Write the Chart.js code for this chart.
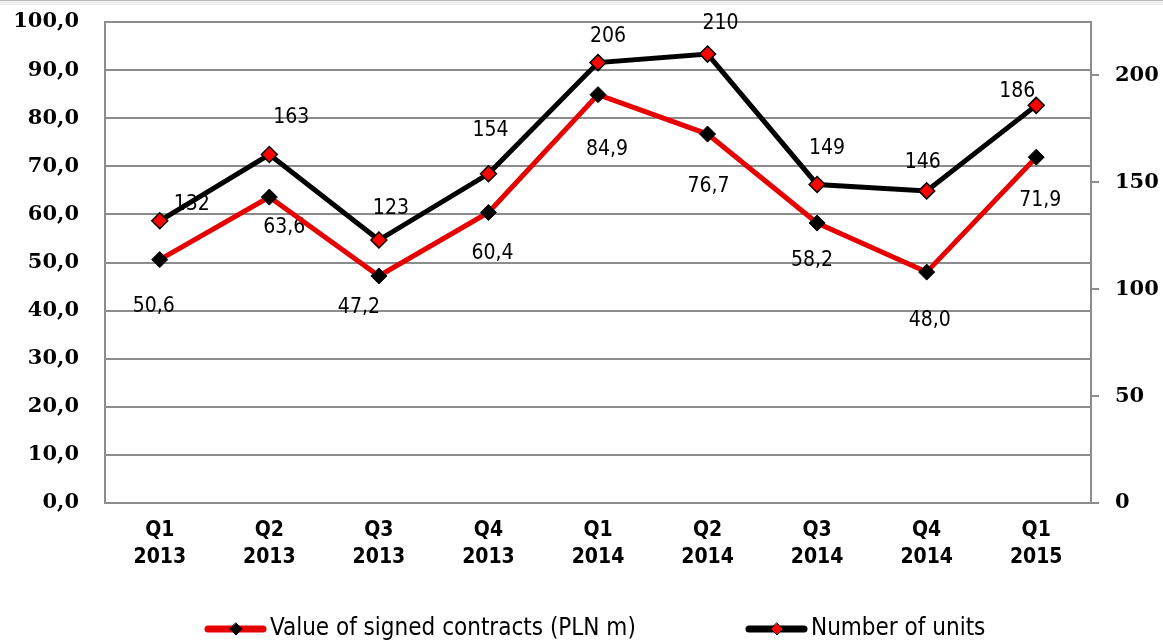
<!DOCTYPE html>
<html>
<head>
<meta charset="utf-8">
<script src="https://cdn.jsdelivr.net/npm/chart.js@4.4.1/dist/chart.umd.min.js"></script>
<style>
  html, body { margin: 0; padding: 0; background: #fff; }
  #contenedor { position: relative; width: 1163px; height: 641px; }
  #franja { position: absolute; left: 0; top: 0; width: 1163px; height: 4px; border-top: 1px solid #b8b8b8; background: #efefef; }
</style>
</head>
<body>
<div id="contenedor">
  <canvas id="grafico" width="1163" height="641"></canvas>
  <div id="franja"></div>
</div>
<script>
// Datos
const trimestres = [['Q1', '2013'], ['Q2', '2013'], ['Q3', '2013'], ['Q4', '2013'], ['Q1', '2014'], ['Q2', '2014'], ['Q3', '2014'], ['Q4', '2014'], ['Q1', '2015']];
const valorContratos = [50.6, 63.6, 47.2, 60.4, 84.9, 76.7, 58.2, 48.0, 71.9];
const numeroUnidades = [132, 163, 123, 154, 206, 210, 149, 146, 186];
const ticksIzquierda = [0, 10, 20, 30, 40, 50, 60, 70, 80, 90, 100];
const ticksDerecha = [0, 50, 100, 150, 200];
const nombreValor = 'Value of signed contracts (PLN m)';
const nombreUnidades = 'Number of units';

// Desplazamiento de cada etiqueta respecto a su punto (px)
const despValor = [[-6, 47], [15, 30], [-20, 32], [4, 41], [9, 55], [1, 52], [-5, 37], [3, 48], [4, 43]];
const despUnidades = [[32, -16], [22, -37], [12, -32], [2, -43], [10, -26], [13, -31], [10, -36], [-4, -28], [-19, -14]];

const fuenteCondensada = "'DejaVu Sans Condensed', 'DejaVu Sans', sans-serif";
const rojo = '#e60000';
const gris = '#8c8c8c';

// Etiquetas de datos (se dibujan debajo de las lineas)
const etiquetasPlugin = {
  id: 'etiquetas',
  beforeDatasetsDraw(chart) {
    const c = chart.ctx;
    const desplazamientos = [despValor, despUnidades];
    c.save();
    c.font = `21px ${fuenteCondensada}`;
    c.fillStyle = '#000';
    c.textAlign = 'center';
    c.textBaseline = 'middle';
    chart.data.datasets.forEach((ds, i) => {
      const meta = chart.getDatasetMeta(i);
      meta.data.forEach((pt, j) => {
        const texto = i === 0 ? ds.data[j].toFixed(1).replace('.', ',') : String(ds.data[j]);
        c.fillText(texto, pt.x + desplazamientos[i][j][0], pt.y + desplazamientos[i][j][1]);
      });
    });
    c.restore();
  }
};

// Leyenda propia: linea gruesa con rombo en el medio
const leyendaPlugin = {
  id: 'leyendaPropia',
  afterDraw(chart) {
    const c = chart.ctx;
    const y = 629;
    const items = [
      { x: 205, linea: rojo, relleno: '#000', texto: chart.data.datasets[0].label },
      { x: 746, linea: '#000', relleno: '#ff0000', texto: chart.data.datasets[1].label }
    ];
    items.forEach(it => {
      c.save();
      c.strokeStyle = it.linea;
      c.lineWidth = 7;
      c.lineCap = 'round';
      c.beginPath();
      c.moveTo(it.x + 3, y);
      c.lineTo(it.x + 58, y);
      c.stroke();
      const cx = it.x + 31, r = 6;
      c.beginPath();
      c.moveTo(cx, y - r); c.lineTo(cx + r, y); c.lineTo(cx, y + r); c.lineTo(cx - r, y);
      c.closePath();
      c.fillStyle = it.relleno;
      c.fill();
      c.lineWidth = 1;
      c.strokeStyle = '#000';
      c.stroke();
      c.font = `24px ${fuenteCondensada}`;
      c.fillStyle = '#000';
      c.textAlign = 'left';
      c.textBaseline = 'middle';
      c.fillText(it.texto, it.x + 65, y);
      c.restore();
    });
  }
};

const ctx = document.querySelector('#grafico');

const myChart = new Chart(ctx, {
  type: 'line',
  data: {
    labels: trimestres,
    datasets: [{
      label: nombreValor,
      data: valorContratos,
      yAxisID: 'y',
      borderColor: rojo,
      borderWidth: 5,
      pointStyle: 'rectRot',
      pointRadius: 8,
      pointBackgroundColor: '#000',
      pointBorderColor: '#000',
      pointBorderWidth: 1,
      tension: 0,
      order: 1
    }, {
      label: nombreUnidades,
      data: numeroUnidades,
      yAxisID: 'y2',
      borderColor: '#000',
      borderWidth: 5,
      pointStyle: 'rectRot',
      pointRadius: 8,
      pointBackgroundColor: '#ff0000',
      pointBorderColor: '#000',
      pointBorderWidth: 1.5,
      tension: 0,
      order: 0
    }]
  },
  options: {
    responsive: false,
    animation: false,
    layout: { padding: { top: 22, left: 0, right: 0, bottom: 0 } },
    plugins: {
      legend: { display: false },
      tooltip: { enabled: false }
    },
    scales: {
      x: {
        offset: true,
        grid: { display: false, drawTicks: false },
        border: { display: true, color: gris, width: 2 },
        ticks: {
          color: '#000',
          padding: 14,
          maxRotation: 0,
          autoSkip: false,
          font: { family: fuenteCondensada, weight: 'bold', size: 21, lineHeight: 1.28 }
        },
        afterFit(scale) {
          scale.height = 138;
          scale.paddingLeft = 0;
          scale.paddingRight = 0;
        }
      },
      y: {
        position: 'left',
        min: 0,
        max: 100,
        bounds: 'data',
        grid: { color: gris, lineWidth: 2, drawTicks: false },
        border: { display: true, color: gris, width: 2 },
        ticks: {
          color: '#000',
          padding: 26,
          font: { family: "'DejaVu Serif', serif", weight: 'bold', size: 21 },
          callback: v => v.toFixed(1).replace('.', ',')
        },
        afterBuildTicks(scale) { scale.ticks = ticksIzquierda.map(v => ({ value: v })); },
        afterFit(scale) {
          scale.width = 105;
          scale.paddingTop = 0;
          scale.paddingBottom = 0;
        }
      },
      y2: {
        position: 'right',
        min: 0,
        max: 225,
        bounds: 'data',
        grid: { drawOnChartArea: false, drawTicks: true, tickLength: 8, color: gris, lineWidth: 2 },
        border: { display: true, color: gris, width: 2 },
        ticks: {
          color: '#000',
          padding: 16,
          font: { family: "'DejaVu Serif', serif", weight: 'bold', size: 21 },
          callback: v => String(v)
        },
        afterBuildTicks(scale) { scale.ticks = ticksDerecha.map(v => ({ value: v })); },
        afterFit(scale) {
          scale.width = 72;
          scale.paddingTop = 0;
          scale.paddingBottom = 0;
        }
      }
    }
  },
  plugins: [etiquetasPlugin, leyendaPlugin]
});
</script>
</body>
</html>
